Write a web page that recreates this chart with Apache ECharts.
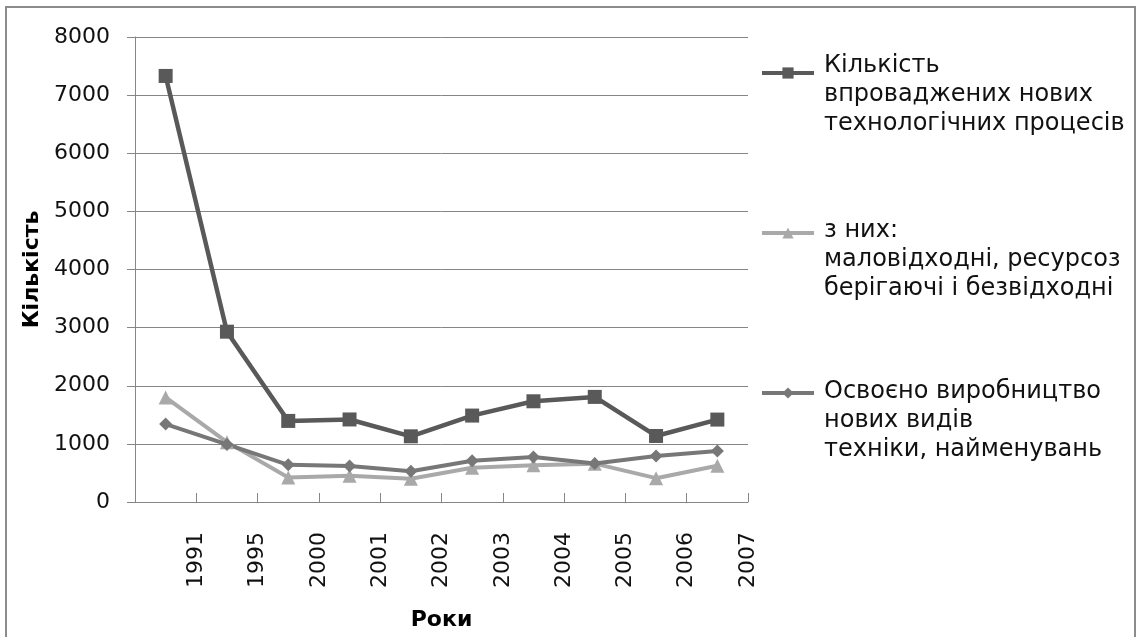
<!DOCTYPE html>
<html>
<head>
<meta charset="utf-8">
<script src="https://cdn.jsdelivr.net/npm/echarts@6/dist/echarts.min.js"></script>
<style>
  html, body { margin: 0; padding: 0; background: #fff; }
  #chart { width: 1137px; height: 637px; }
</style>
</head>
<body>
<div id="chart"></div>
<script>
// roky (pidpysy osi X stoiat' na mezhakh kategorij)
var years = ['1991', '1995', '2000', '2001', '2002', '2003', '2004', '2005', '2006', '2007'];

var seriesNames = [
  'Кількість\nвпроваджених нових\nтехнологічних процесів',
  'з них:\nмаловідходні, ресурсоз\nберігаючі і безвідходні',
  'Освоєно виробництво\nнових видів\nтехніки, найменувань'
];

// znachennia zchytani z malyunka
var processes = [7330, 2930, 1395, 1420, 1130, 1487, 1733, 1808, 1136, 1418];
var lowWaste = [1800, 1030, 420, 450, 400, 590, 632, 660, 410, 625];
var newTech = [1340, 990, 640, 620, 530, 710, 775, 661, 792, 878];

var yTicks = [0, 1000, 2000, 3000, 4000, 5000, 6000, 7000, 8000];

var toPoints = function (arr) {
  var out = [];
  for (var i = 0; i < arr.length; i++) {
    out.push([i + 0.5, arr[i]]);
  }
  return out;
};

var font = 'DejaVu Sans';
var gridColor = '#868686';

// okrema lehenda dlia kozhnoi serii (pustyj riadok vysotoiu gap zsuvaie tekst)
var makeLegend = function (name, top, gap) {
  return {
    orient: 'vertical',
    left: 760,
    top: top,
    padding: 0,
    itemWidth: 52,
    itemHeight: 14,
    data: [name],
    lineStyle: { width: 4 },
    textStyle: {
      fontFamily: font,
      fontSize: 24,
      lineHeight: 29,
      color: '#111',
      padding: [0, 0, 0, 5],
      rich: {
        g: { fontSize: 10, lineHeight: gap }
      }
    },
    formatter: function (n) {
      return '{g| }\n' + n;
    }
  };
};

var chart = echarts.init(document.getElementById('chart'));

var option = {
  backgroundColor: '#fff',
  animation: false,
  textStyle: { fontFamily: font },
  graphic: [{
    type: 'rect',
    shape: { x: 6, y: 7, width: 1129, height: 640 },
    style: { fill: 'none', stroke: '#8c8c8c', lineWidth: 2 },
    silent: true
  }],
  grid: { left: 135, right: 389, top: 37, bottom: 135 },
  legend: [
    makeLegend(seriesNames[0], 7.5, 44),
    makeLegend(seriesNames[1], 162.5, 54),
    makeLegend(seriesNames[2], 321.5, 56)
  ],
  xAxis: {
    type: 'value',
    min: 0,
    max: years.length,
    interval: 1,
    name: 'Роки',
    nameLocation: 'middle',
    nameGap: 107,
    nameTextStyle: { fontFamily: font, fontSize: 22, fontWeight: 'bold', color: '#000' },
    axisLine: { show: true, lineStyle: { color: gridColor, width: 1 } },
    axisTick: { show: true, inside: true, length: 9, lineStyle: { color: gridColor } },
    splitLine: { show: false },
    axisLabel: {
      rotate: 90,
      margin: 30,
      fontFamily: font,
      fontSize: 22,
      color: '#111',
      formatter: function (v) {
        return v >= 1 ? years[v - 1] : '';
      }
    }
  },
  yAxis: {
    type: 'value',
    min: yTicks[0],
    max: yTicks[yTicks.length - 1],
    interval: 1000,
    name: 'Кількість',
    nameLocation: 'middle',
    nameGap: 87,
    nameTextStyle: { fontFamily: font, fontSize: 22, fontWeight: 'bold', color: '#000' },
    axisLine: { show: true, lineStyle: { color: gridColor, width: 1 } },
    axisTick: { show: true, length: 8, lineStyle: { color: gridColor } },
    splitLine: { show: true, lineStyle: { color: gridColor, width: 1 } },
    axisLabel: {
      margin: 25,
      fontFamily: font,
      fontSize: 22,
      color: '#111',
      formatter: function (v) { return String(v); }
    }
  },
  series: [
    {
      name: seriesNames[0],
      type: 'line',
      data: toPoints(processes),
      symbol: 'rect',
      symbolSize: 14,
      color: '#595959',
      lineStyle: { width: 4.5, color: '#595959' },
      itemStyle: { color: '#595959' }
    },
    {
      name: seriesNames[1],
      type: 'line',
      data: toPoints(lowWaste),
      symbol: 'triangle',
      symbolSize: 14,
      color: '#a9a9a9',
      lineStyle: { width: 4, color: '#a9a9a9' },
      itemStyle: { color: '#a9a9a9' }
    },
    {
      name: seriesNames[2],
      type: 'line',
      data: toPoints(newTech),
      symbol: 'diamond',
      symbolSize: 13,
      color: '#777777',
      lineStyle: { width: 4, color: '#777777' },
      itemStyle: { color: '#777777' }
    }
  ]
};

chart.setOption(option);
</script>
</body>
</html>
